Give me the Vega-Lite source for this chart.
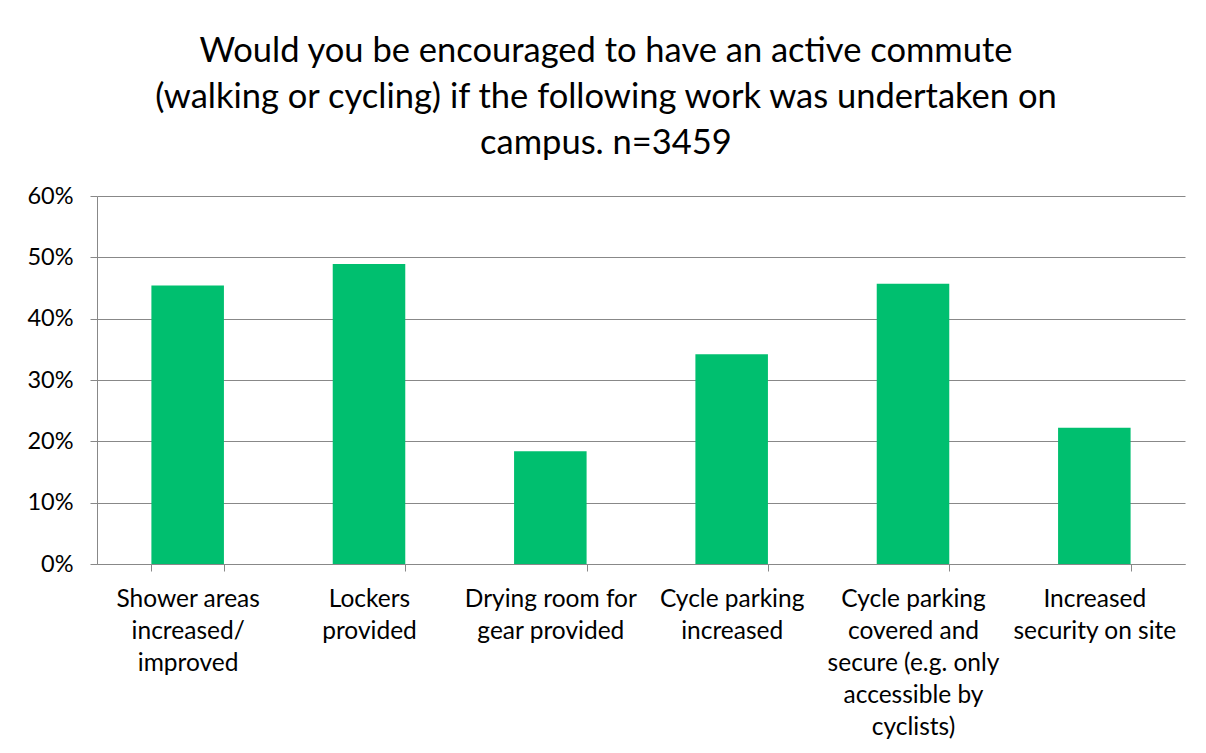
{
  "$schema": "https://vega.github.io/schema/vega-lite/v6.json",
  "autosize": "none",
  "width": 1088,
  "height": 368,
  "padding": {"left": 97, "top": 196, "right": 21, "bottom": 189},
  "background": "white",
  "title": {
    "text": ["Would you be encouraged to have an active commute", "(walking or cycling) if the following work was undertaken on", "campus. n=3459"],
    "font": "Lato",
    "fontSize": 34.5,
    "fontWeight": "normal",
    "color": "#000000",
    "lineHeight": 46,
    "anchor": "middle",
    "frame": "bounds",
    "offset": 23
  },
  "data": {
    "values": [
      {"measure": "Shower areas|increased/|improved", "share": 0.454},
      {"measure": "Lockers|provided", "share": 0.489},
      {"measure": "Drying room for|gear provided", "share": 0.184},
      {"measure": "Cycle parking|increased", "share": 0.342},
      {"measure": "Cycle parking|covered and|secure (e.g. only|accessible by|cyclists)", "share": 0.457},
      {"measure": "Increased|security on site", "share": 0.222}
    ]
  },
  "mark": {"type": "bar", "color": "#00BF6F"},
  "encoding": {
    "x": {
      "field": "measure",
      "type": "nominal",
      "sort": null,
      "scale": {"paddingInner": 0.6, "paddingOuter": 0.3},
      "axis": {
        "title": null,
        "labelAngle": 0,
        "labelExpr": "split(datum.label, '|')",
        "labelFont": "Lato",
        "labelFontSize": 24.5,
        "labelColor": "#000000",
        "labelLineHeight": 32,
        "labelLimit": 0,
        "labelPadding": 16,
        "labelBaseline": "top",
        "tickBand": "extent",
        "tickSize": 7,
        "tickColor": "#888888",
        "domainColor": "#888888",
        "grid": false
      }
    },
    "y": {
      "field": "share",
      "type": "quantitative",
      "scale": {"domain": [0, 0.6], "nice": false},
      "axis": {
        "title": null,
        "format": ".0%",
        "values": [0, 0.1, 0.2, 0.3, 0.4, 0.5, 0.6],
        "labelFont": "Lato",
        "labelFontSize": 23.5,
        "labelColor": "#000000",
        "labelPadding": 17,
        "tickSize": 7,
        "tickColor": "#888888",
        "domainColor": "#888888",
        "gridColor": "#888888",
        "gridWidth": 1,
        "grid": true
      }
    }
  },
  "config": {
    "view": {"stroke": null}
  }
}
